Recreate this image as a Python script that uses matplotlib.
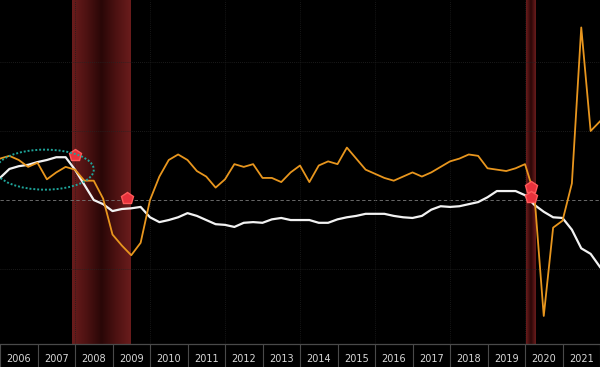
import numpy as np
import matplotlib
matplotlib.use("Agg")
import matplotlib.pyplot as plt
from matplotlib.patches import Ellipse

# quarterly, plotted at quarter end (2005Q4 .. 2021Q4)
start_year = 2006.0
gdp_yoy = [3.0, 3.2, 2.9, 2.4, 2.7, 1.5, 2.0, 2.4, 2.2, 1.4,
           1.4, 0.1, -2.5, -3.3, -4.0, -3.1, 0.0, 1.7, 2.9, 3.3,
           2.9, 2.1, 1.7, 0.9, 1.5, 2.6, 2.4, 2.6, 1.6, 1.6,
           1.3, 2.0, 2.5, 1.3, 2.5, 2.8, 2.6, 3.8, 3.0, 2.2,
           1.9, 1.6, 1.4, 1.7, 2.0, 1.7, 2.0, 2.4, 2.8, 3.0,
           3.3, 3.2, 2.3, 2.2, 2.1, 2.3, 2.6, 0.4, -8.4, -2.0,
           -1.5, 1.2, 12.5, 5.0, 5.7]
second = [1.6, 2.25, 2.45, 2.55, 2.75, 2.9, 3.1, 3.1, 2.2, 1.1,
          0.0, -0.3, -0.8, -0.65, -0.6, -0.5, -1.25, -1.6, -1.45, -1.25,
          -0.95, -1.15, -1.45, -1.75, -1.8, -1.95, -1.65, -1.6, -1.65, -1.4,
          -1.3, -1.45, -1.45, -1.45, -1.65, -1.65, -1.4, -1.25, -1.15, -1.0,
          -1.0, -1.0, -1.15, -1.25, -1.3, -1.15, -0.7, -0.45, -0.5, -0.45,
          -0.3, -0.15, 0.2, 0.65, 0.65, 0.65, 0.35, -0.35, -0.85, -1.25,
          -1.3, -2.15, -3.5, -3.9, -4.85]

recessions = [(2007.92, 2009.47), (2020.03, 2020.29)]
rec_marks_x = [2008.0, 2009.38, 2020.15, 2020.15]
rec_marks_y = [3.25, 0.15, 0.95, 0.2]
years = list(range(2006, 2022))

t = start_year + np.arange(len(gdp_yoy)) / 4.0

fig = plt.figure(figsize=(6, 3.67), dpi=100, facecolor="black")
ax = fig.add_axes([0, 23 / 367, 1, 344 / 367])
ax.set_facecolor("black")
ax.set_xlim(2006, 2022)
ax.set_ylim(-10.43, 14.49)

# recession bands with a dark centre gradient
grad = np.abs(np.linspace(-1, 1, 200))[None, :]
cmap = matplotlib.colors.LinearSegmentedColormap.from_list(
    "rec", ["#2a0707", "#4d1212", "#6a1c1c"])
for a, b in recessions:
    ax.imshow(grad, cmap=cmap, extent=[a, b, -10.43, 14.49], aspect="auto",
              zorder=0, interpolation="bilinear")

# grid
for y in [-5, 5, 10]:
    ax.axhline(y, color="#242424", lw=0.6, ls=(0, (1, 1.5)), zorder=1)
ax.axhline(0, color="#7a7a7a", lw=0.6, ls=(0, (4, 3)), zorder=1)
for x in range(2008, 2022, 2):
    ax.axvline(x, color="#1e1e1e", lw=0.6, ls=(0, (1, 1.5)), zorder=1)

ax.plot(t, second, color="#f2f2f2", lw=1.6, zorder=3)
ax.plot(t, gdp_yoy, color="#e8961e", lw=1.3, zorder=4)

ax.plot(rec_marks_x, rec_marks_y, ls="none", marker="p", ms=9,
        color="#e8323c", mec="#ff5a5a", zorder=5)

ax.add_patch(Ellipse((2007.2, 2.2), 2.6, 2.9, fill=False, ec="#1fa59a",
                     lw=1.4, ls=(0, (1, 1)), zorder=6))

# x axis: boxed year labels
ax.set_xticks(years + [2022])
ax.set_xticklabels([])
ax.set_xticks([y + 0.5 for y in years], minor=True)
ax.set_xticklabels([str(y) for y in years], minor=True)
ax.tick_params(axis="x", which="major", direction="out", length=17,
               width=0.8, color="#4a4a4a")
ax.tick_params(axis="x", which="minor", length=0, pad=7.5,
               labelsize=7, labelcolor="#d8d8d8")
ax.set_yticks([])
for s in ["top", "left", "right"]:
    ax.spines[s].set_visible(False)
ax.spines["bottom"].set_color("#4a4a4a")
ax.spines["bottom"].set_linewidth(0.9)

plt.savefig("out.png", dpi=100, facecolor="black")
